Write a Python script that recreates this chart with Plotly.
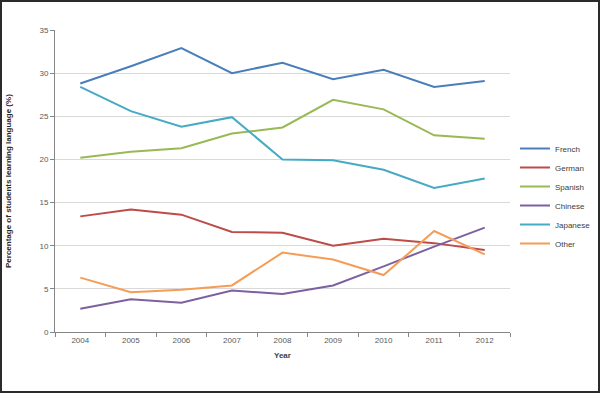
import plotly.graph_objects as go

years = ["2004", "2005", "2006", "2007", "2008", "2009", "2010", "2011", "2012"]
french = [28.8, 30.8, 32.9, 30.0, 31.2, 29.3, 30.4, 28.4, 29.1]
german = [13.4, 14.2, 13.6, 11.6, 11.5, 10.0, 10.8, 10.3, 9.5]
spanish = [20.2, 20.9, 21.3, 23.0, 23.7, 26.9, 25.8, 22.8, 22.4]
chinese = [2.7, 3.8, 3.4, 4.8, 4.4, 5.4, 7.6, 9.9, 12.1]
japanese = [28.4, 25.6, 23.8, 24.9, 20.0, 19.9, 18.8, 16.7, 17.8]
other = [6.3, 4.6, 4.9, 5.4, 9.2, 8.4, 6.6, 11.7, 9.0]

series = [
    ("French", french, "#4A7EBB"),
    ("German", german, "#BE4B48"),
    ("Spanish", spanish, "#98B954"),
    ("Chinese", chinese, "#7D60A0"),
    ("Japanese", japanese, "#46AAC5"),
    ("Other", other, "#F59D56"),
]

fig = go.Figure()
for name, vals, col in series:
    fig.add_trace(go.Scatter(x=years, y=vals, name=name, mode="lines",
                             line=dict(color=col, width=2)))

W, H = 600, 393
ml, mr, mt, mb = 55, 90, 30, 61
pw, ph = W - ml - mr, H - mt - mb

fig.update_layout(
    width=W, height=H,
    margin=dict(l=ml, r=mr, t=mt, b=mb, autoexpand=False),
    paper_bgcolor="white", plot_bgcolor="white",
    font=dict(family="Liberation Sans, Arial", size=8, color="#595959"),
    showlegend=True,
    legend=dict(x=(515 - ml) / pw, y=(H - mb - 196) / ph, xanchor="left", yanchor="middle",
                font=dict(size=8, color="#404040"), tracegroupgap=0,
                bgcolor="rgba(0,0,0,0)"),
    xaxis=dict(type="category", range=[-0.5, 8.5], automargin=False,
               showgrid=False, showline=True, linecolor="#868686",
               linewidth=1, ticks="outside", tickson="boundaries", ticklen=4,
               tickcolor="#868686", tickfont=dict(size=8, color="#595959")),
    yaxis=dict(range=[0, 35], dtick=5, automargin=False,
               showgrid=True, gridcolor="#D9D9D9", gridwidth=1,
               showline=True, linecolor="#868686", ticks="outside", ticklen=4,
               tickcolor="#868686", zeroline=False,
               tickfont=dict(size=8, color="#595959")),
)

fig.add_annotation(xref="paper", yref="paper", x=0.5, y=-23 / ph, yanchor="middle",
                   text="<b>Year</b>", showarrow=False,
                   font=dict(size=8, color="#404040"))
fig.add_annotation(xref="paper", yref="paper", x=-47 / pw, y=0.5, xanchor="center",
                   text="<b>Percentage of students learning language (%)</b>",
                   textangle=-90, showarrow=False,
                   font=dict(size=8, color="#262626"))

# outer frame of the image
fig.add_shape(type="rect", xref="paper", yref="paper",
              x0=(-ml + 1) / pw, x1=(W - ml - 1) / pw,
              y0=(-mb + 1) / ph, y1=(H - mb - 1) / ph,
              line=dict(color="#2b2b2b", width=2), fillcolor="rgba(0,0,0,0)", layer="above")

fig.write_html("out.html", config={"displayModeBar": False},
               post_script="document.body.style.margin='0';document.body.style.overflow='hidden';")
